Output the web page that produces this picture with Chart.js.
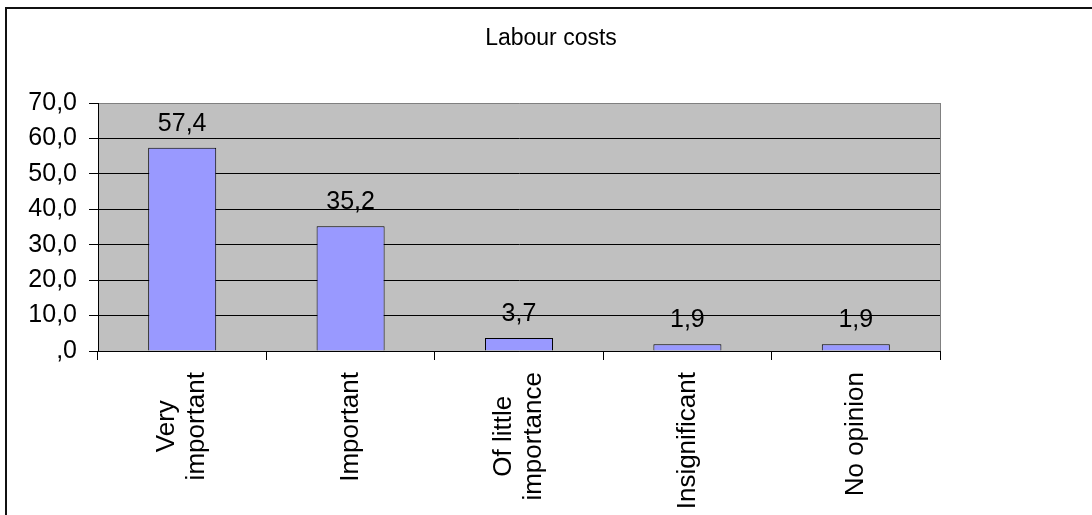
<!DOCTYPE html>
<html>
<head>
<meta charset="utf-8">
<title>Labour costs</title>
<script src="https://cdn.jsdelivr.net/npm/chart.js@4/dist/chart.umd.min.js"></script>
<style>
  html, body { margin: 0; padding: 0; background: #fff; overflow: hidden; }
  #wrap { position: relative; width: 1092px; height: 515px; overflow: hidden; }
  #chart { display: block; }
  #frame { position: absolute; left: 5px; top: 7px; width: 1200px; height: 600px; border: 2px solid #111; pointer-events: none; }
</style>
</head>
<body>
<div id="wrap">
  <canvas id="chart" width="1102" height="515"></canvas>
  <div id="frame"></div>
</div>
<script>
const chartTitle = 'Labour costs';
const categories = [['Very', 'important'], 'Important', ['Of little', 'importance'], 'Insignificant', 'No opinion'];
const shares = [57.4, 35.2, 3.7, 1.9, 1.9];
const yTickValues = [0, 10, 20, 30, 40, 50, 60, 70];

const FONT = "'Liberation Sans', Arial, sans-serif";

// 57.4 -> "57,4", 0 -> ",0"
function fmt(v) {
  return v === 0 ? ',0' : v.toFixed(1).replace('.', ',');
}

// title centred on the whole canvas, not just the plot
const titleText = {
  id: 'titleText',
  afterDraw(chart) {
    const { ctx } = chart;
    ctx.save();
    ctx.font = `23px ${FONT}`;
    ctx.fillStyle = '#000';
    ctx.textAlign = 'center';
    ctx.textBaseline = 'alphabetic';
    ctx.fillText(chartTitle, chart.width / 2, 45);
    ctx.restore();
  }
};

const plotBg = {
  id: 'plotBg',
  beforeDraw(chart) {
    const { ctx, chartArea: a } = chart;
    ctx.save();
    ctx.fillStyle = '#c0c0c0';
    ctx.fillRect(a.left, a.top, a.right - a.left, a.bottom - a.top);
    ctx.restore();
  },
  beforeDatasetsDraw(chart) {
    const { ctx, chartArea: a } = chart;
    ctx.save();
    ctx.strokeStyle = '#808080';
    ctx.lineWidth = 1;
    ctx.beginPath();
    ctx.moveTo(Math.round(a.right) + 0.5, a.top);
    ctx.lineTo(Math.round(a.right) + 0.5, a.bottom);
    ctx.stroke();
    ctx.restore();
  }
};

const barValues = {
  id: 'barValues',
  afterDatasetsDraw(chart) {
    const { ctx } = chart;
    const meta = chart.getDatasetMeta(0);
    ctx.save();
    ctx.font = `25px ${FONT}`;
    ctx.fillStyle = '#000';
    ctx.textAlign = 'center';
    ctx.textBaseline = 'alphabetic';
    meta.data.forEach((bar, i) => {
      ctx.fillText(fmt(shares[i]), bar.x, bar.y - 17);
    });
    ctx.restore();
  }
};

// vertical category labels, lines centred within each label block
const categoryLabels = {
  id: 'categoryLabels',
  afterDraw(chart) {
    const { ctx } = chart;
    const xs = chart.scales.x;
    const lineH = 30;
    ctx.save();
    ctx.font = `26px ${FONT}`;
    ctx.fillStyle = '#000';
    ctx.textBaseline = 'middle';
    ctx.textAlign = 'center';
    categories.forEach((label, i) => {
      const lines = Array.isArray(label) ? label : [label];
      const maxW = Math.max(...lines.map(l => ctx.measureText(l).width));
      const x = xs.getPixelForValue(i);
      ctx.save();
      ctx.translate(x, xs.top + 21);
      ctx.rotate(-Math.PI / 2);
      lines.forEach((line, j) => {
        ctx.fillText(line, -maxW / 2, (j - (lines.length - 1) / 2) * lineH);
      });
      ctx.restore();
    });
    ctx.restore();
  }
};

new Chart(document.getElementById('chart'), {
  type: 'bar',
  data: {
    labels: categories,
    datasets: [{
      data: shares,
      backgroundColor: '#9999ff',
      borderColor: '#000',
      borderWidth: 1,
      barPercentage: 0.404,
      categoryPercentage: 1
    }]
  },
  options: {
    responsive: false,
    animation: false,
    layout: { padding: { left: 0, right: 162, top: 103, bottom: 0 } },
    plugins: {
      legend: { display: false },
      tooltip: { enabled: false },
      title: { display: false }
    },
    scales: {
      x: {
        grid: { display: true, drawOnChartArea: false, drawTicks: true, tickLength: 9, color: '#000', offset: true },
        border: { color: '#000', width: 1 },
        ticks: { display: false },
        afterFit: s => { s.height = 164; }
      },
      y: {
        min: 0,
        max: 70,
        afterBuildTicks: s => { s.ticks = yTickValues.map(v => ({ value: v })); },
        grid: {
          color: c => (c.tick && c.tick.value === 70 ? '#808080' : '#000'),
          tickColor: '#000',
          tickLength: 9
        },
        border: { color: '#000', width: 1 },
        ticks: {
          color: '#000',
          padding: 12,
          font: { family: FONT, size: 25 },
          callback: v => fmt(v)
        },
        afterFit: s => { s.width = 98; }
      }
    }
  },
  plugins: [plotBg, barValues, categoryLabels, titleText]
});
</script>
</body>
</html>
